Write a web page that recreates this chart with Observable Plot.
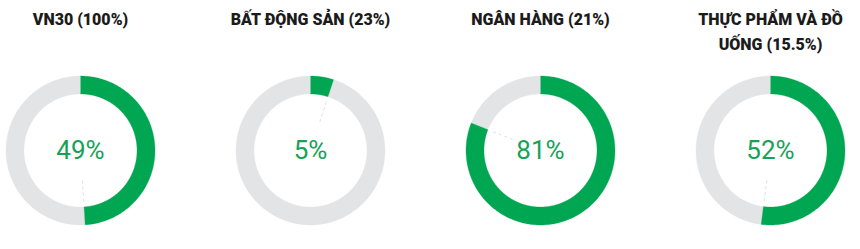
<!DOCTYPE html>
<html><head><meta charset="utf-8">
<script src="https://cdn.jsdelivr.net/npm/d3@7"></script>
<script src="https://cdn.jsdelivr.net/npm/@observablehq/plot@0.6"></script>
<style>body{margin:0;background:#fff;font-family:Roboto,sans-serif}</style>
</head><body><div id="chart"></div>
<script>
// Data
const titles = ["VN30 (100%)", "BẤT ĐỘNG SẢN (23%)", "NGÂN HÀNG (21%)", "THỰC PHẨM VÀ ĐỒ UỐNG (15.5%)"];
const shares = [49, 5, 81, 52];

// Styles
const GREEN = "#00a651", GREY = "#e3e4e6", TEXTGREEN = "#16a257";
const R_OUT = 74.5, R_IN = 56.5;

const rows = titles.map((title, i) => ({key: i, title, share: shares[i]}));

// ring segment polygon (percent range, clockwise from 12 o'clock)
function segment(key, from, to, kind) {
  const pts = [];
  const n = Math.max(2, Math.ceil((to - from) * 4));
  for (let j = 0; j <= n; j++) {
    const a = (from + (to - from) * j / n) / 100 * 2 * Math.PI;
    pts.push({key, kind, x: R_OUT * Math.sin(a), y: R_OUT * Math.cos(a)});
  }
  for (let j = n; j >= 0; j--) {
    const a = (from + (to - from) * j / n) / 100 * 2 * Math.PI;
    pts.push({key, kind, x: R_IN * Math.sin(a), y: R_IN * Math.cos(a)});
  }
  return pts;
}
const onPts = rows.flatMap(d => segment(d.key, 0, d.share, "on"));
const offPts = rows.flatMap(d => segment(d.key, d.share, 100, "off"));
const ang = d => d.share / 100 * 2 * Math.PI;

const chart = Plot.plot({
  width: 860, height: 249,
  marginTop: 72, marginBottom: 21, marginLeft: 1, marginRight: 12,
  x: {domain: [-78, 78], axis: null},
  y: {domain: [-78, 78], axis: null},
  fx: {domain: [0, 1, 2, 3], paddingInner: 0.3227, paddingOuter: 0, axis: null},
  style: {fontFamily: "Roboto, sans-serif", background: "#fff", overflow: "visible"},
  marks: [
    Plot.line(offPts, {fx: "key", x: "x", y: "y", fill: GREY, stroke: GREY, strokeWidth: 0.3}),
    Plot.line(onPts, {fx: "key", x: "x", y: "y", fill: GREEN, stroke: GREEN, strokeWidth: 0.3}),
    Plot.link(rows, {
      fx: "key",
      x1: d => 30 * Math.sin(ang(d)), y1: d => 30 * Math.cos(ang(d)),
      x2: d => 53 * Math.sin(ang(d)), y2: d => 53 * Math.cos(ang(d)),
      stroke: "#d6e6dc", strokeWidth: 1, strokeDasharray: "3,3"
    }),
    Plot.text(rows, {
      fx: "key", text: d => `${d.share}%`, frameAnchor: "middle",
      fontSize: 26, fill: TEXTGREEN
    }),
    Plot.text(rows, {
      fx: "key", text: "title", frameAnchor: "top", lineAnchor: "top", dy: -66,
      fontSize: 16, fontWeight: 900, fill: "#1b1b1b", lineWidth: 11, lineHeight: 1.6
    })
  ]
});
document.getElementById("chart").append(chart);
</script>
</body></html>
